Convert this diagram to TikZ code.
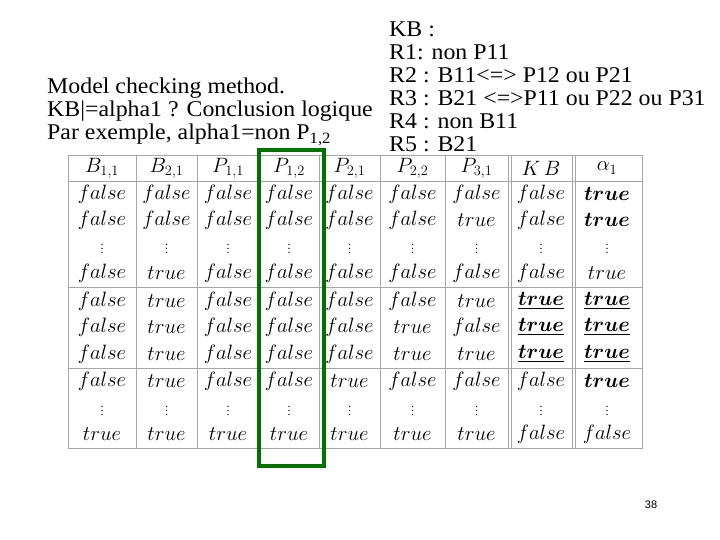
\documentclass[tikz,border=0pt]{standalone}
\usepackage{fontspec}
\usepackage{amsmath}
\setmainfont{Liberation Serif}
\newfontfamily\pnfont{Liberation Sans}
\begin{document}
\begin{tikzpicture}[x=1pt,y=-1pt,
  txt/.style={anchor=base west,inner sep=0pt,font=\fontsize{22.5}{23}\selectfont,xscale=1.06,transform shape},
  cell/.style={inner sep=0pt,font=\fontsize{22}{24}\selectfont},
  dots/.style={inner sep=0pt,font=\fontsize{12}{14}\selectfont},
  grid/.style={draw=gray!70,line width=0.8pt},
  hl/.style={draw=green!45!black,line width=4pt}]
\useasboundingbox (0,0) rectangle (720,540);
\node[txt] (l1) at (47,94) {Model checking method.};
\node[txt] (l2) at (47,117) {KB|=alpha1 ? Conclusion logique};
\node[txt] (l3) at (47,140) {Par exemple, alpha1=non P\textsubscript{1,2}};
\foreach \t [count=\i] in {KB :,R1: non P11,R2 : B11<=> P12 ou P21,R3 : B21 <=>P11 ou P22 ou P31,R4 : non B11,R5 : B21}
  \node[txt] (r\i) at (389,{14+23*\i}) {\t};
\draw[grid] (68,155) rectangle (642,448);
\foreach \x in {136,197,259,319,380,445,508,572} \draw[grid] (\x,155) -- (\x,448);
\foreach \x in {511,575} \draw[grid] (\x,155) -- (\x,448);
\foreach \y in {181,287,368} \draw[grid] (68,\y) -- (642,\y);
\def\xs{{102,166.5,228,289,349.5,412.5,476.5,541,607}}
\foreach \h [count=\c] in {B_{1,1},B_{2,1},P_{1,1},P_{1,2},P_{2,1},P_{2,2},P_{3,1},K\,B,\alpha_1}
  \node[cell] (h\c) at ({\xs[\c-1]},168) {$\h$};
\foreach \row/\y [count=\r] in {
 {f,f,f,f,f,f,f,f,T}/194, {f,f,f,f,f,f,t,f,T}/220, {d,d,d,d,d,d,d,d,d}/246,
 {f,t,f,f,f,f,f,f,t}/273, {f,t,f,f,f,f,t,U,U}/301, {f,t,f,f,f,t,f,U,U}/327,
 {f,t,f,f,f,t,t,U,U}/354, {f,t,f,f,t,f,f,f,T}/381, {d,d,d,d,d,d,d,d,d}/408,
 {t,t,t,t,t,t,t,f,f}/434}{
  \foreach \v [count=\c] in \row {
    \if f\v \node[cell] (c\r-\c) at ({\xs[\c-1]},\y) {$false$};\fi
    \if t\v \node[cell] (c\r-\c) at ({\xs[\c-1]},\y) {$true$};\fi
    \if T\v \node[cell] (c\r-\c) at ({\xs[\c-1]},\y) {$\boldsymbol{true}$};\fi
    \if U\v \node[cell] (c\r-\c) at ({\xs[\c-1]},\y) {$\underline{\boldsymbol{true}}$};\fi
    \if d\v \node[dots] (c\r-\c) at ({\xs[\c-1]},\y) {$\vdots$};\fi
  }
}
\draw[hl] (259,150) rectangle (324,466);
\node[font=\pnfont\fontsize{11}{13}\selectfont,inner sep=0pt] (pn) at (651,505) {38};
\end{tikzpicture}
\end{document}
